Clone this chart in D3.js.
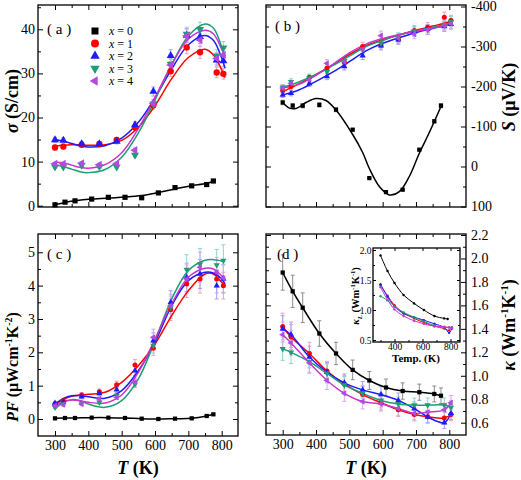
<!DOCTYPE html>
<html><head><meta charset="utf-8">
<script src="https://cdn.jsdelivr.net/npm/d3@7"></script>
<style>body{margin:0;background:#fff}</style>
</head><body>
<script>
// ---------------- DATA ----------------
const seriesNames = ["x = 0","x = 1","x = 2","x = 3","x = 4"];
const T0 = [300,330,360,410,460,510,560,610,660,710,755,775];      // x = 0 temperatures
const Tx = [300,325,380,433,485,540,595,647,695,735,785,805];      // x = 1..4 temperatures
const xTicks = [300,400,500,600,700,800];

// (a) electrical conductivity sigma (S/cm)
const sig0 = [0.2,0.8,1.1,1.5,1.9,1.9,1.8,2.9,4.1,4.5,4.8,5.6];
const sig1 = [13.2,13.4,13.8,14.0,14.9,17.8,22.8,30.5,35.9,34.8,30.2,29.9];
const sig2 = [14.9,14.8,14.0,14.0,14.6,18.3,25.9,34.0,38.6,38.3,33.0,32.8];
const sig3 = [8.8,8.8,9.2,8.9,8.8,11.5,23.1,32.1,38.9,40.0,34.0,35.8];
const sig4 = [9.5,9.5,9.6,9.3,9.5,12.6,23.2,31.9,38.5,37.6,33.4,34.2];
const fitT = [300,325,350,375,400,450,500,550,600,650,700,750,775,800,810];
const sigFit0 = [0.2,0.75,1.1,1.5,1.75,1.95,2.3,3.0,3.8,4.5,5.1,5.5];   // at T0
const sigFit1 = [13.5,13.7,13.8,13.8,13.7,13.8,14.8,17.8,22.7,28.8,33.6,35.5,34.2,30.8,29.0];
const sigFit2 = [15.0,14.6,14.1,13.6,13.3,13.6,15.3,18.9,24.5,31.0,36.5,38.6,37.5,33.5,31.2];
const sigFit3 = [9.2,8.9,8.3,7.7,7.5,8.2,11.0,16.5,24.0,32.0,38.5,41.2,40.3,36.0,33.5];
const sigFit4 = [9.9,9.7,9.2,8.7,8.5,9.3,12.0,17.5,24.5,32.0,37.8,39.8,39.0,35.5,33.8];
const sigTicks = [0,10,20,30,40];

// (b) Seebeck coefficient S (uV/K)
const S0 = [-160,-152,-152,-154,-142,-92,29,64,58,-42,-113,-152];
const S1 = [-190,-200,-223,-246,-260,-300,-304,-318,-340,-348,-373,-365];
const S2 = [-179,-183,-207,-225,-250,-277,-302,-317,-337,-343,-350,-356];
const S3 = [-198,-212,-221,-237,-264,-293,-308,-323,-339,-342,-354,-362];
const S4 = [-196,-208,-217,-258,-262,-293,-327,-321,-331,-342,-352,-357];
const fitTb = [300,350,400,450,500,550,600,650,700,750,800,805];
const SFit1 = [-187,-207,-230,-254,-280,-302,-317,-329,-341,-351,-362,-365];
const SFit2 = [-179,-192,-213,-236,-262,-289,-308,-322,-335,-345,-355,-357];
const SFit3 = [-198,-212,-230,-252,-276,-300,-315,-329,-339,-348,-358,-360];
const SFit4 = [-196,-206,-228,-255,-284,-306,-320,-330,-338,-346,-354,-357];
const SFit0T = [300,320,340,370,400,430,460,510,540,560,590,620,650,680,710,740,775];
const SFit0 = [-160,-146,-145,-160,-170,-165,-141,-80,-35,5,50,71,63,25,-33,-85,-150];
const STicks = [-400,-300,-200,-100,0,100];

// (c) power factor PF (uW cm^-1 K^-2)
const PF0 = [0.02,0.03,0.03,0.04,0.04,0.03,0.01,0.0,0.01,0.02,0.09,0.14];
const PF1 = [0.45,0.55,0.72,0.82,1.03,1.62,2.12,3.28,4.05,4.2,4.2,4.0];
const PF2 = [0.48,0.5,0.67,0.77,0.88,1.45,2.35,3.5,4.25,4.35,4.0,4.2];
const PF3 = [0.35,0.45,0.48,0.5,0.7,1.05,2.2,3.35,4.48,4.65,4.62,4.75];
const PF4 = [0.4,0.43,0.45,0.6,0.65,1.1,2.45,3.4,4.2,4.55,4.4,4.22];
const PFFit1 = [0.42,0.58,0.68,0.72,0.74,0.8,1.1,1.6,2.25,3.1,3.85,4.35,4.35,4.1,4.0];
const PFFit2 = [0.45,0.62,0.7,0.7,0.67,0.62,0.85,1.45,2.3,3.4,4.15,4.4,4.38,4.2,4.05];
const PFFit3 = [0.3,0.5,0.58,0.55,0.45,0.35,0.55,1.2,2.35,3.6,4.45,4.76,4.78,4.74,4.72];
const PFFit4 = [0.37,0.52,0.57,0.55,0.5,0.48,0.72,1.4,2.4,3.45,4.25,4.52,4.5,4.3,4.2];
const PFTicks = [0,1,2,3,4,5];

// (d) thermal conductivity kappa (W m^-1 K^-1)
const K0 = [1.88,1.72,1.58,1.36,1.19,1.05,0.96,0.90,0.87,0.86,0.845,0.83];
const K1 = [1.42,1.33,1.19,1.04,0.93,0.84,0.77,0.71,0.67,0.65,0.64,0.67];
const K2 = [1.40,1.35,1.16,1.03,0.94,0.88,0.84,0.79,0.72,0.65,0.60,0.68];
const K3 = [1.23,1.20,1.12,1.02,0.92,0.85,0.79,0.76,0.75,0.75,0.75,0.73];
const K4 = [1.35,1.28,1.11,0.96,0.85,0.78,0.76,0.72,0.68,0.69,0.71,0.77];
const KTicks = [0.6,0.8,1.0,1.2,1.4,1.6,1.8,2.0,2.2];

// inset: lattice thermal conductivity
const TiIn = [300,350,400,465,540,610,685,755,790,810];
const TiIn0 = [300,350,400,465,540,610,685,755,780];
const KL0 = [1.91,1.65,1.45,1.25,1.11,1.0,0.9,0.86,0.85];
const KL1 = [1.41,1.24,1.08,0.95,0.86,0.79,0.73,0.69,0.66,0.71];
const KL2 = [1.43,1.22,1.06,0.94,0.88,0.83,0.77,0.71,0.62,0.69];
const KL3 = [1.23,1.16,1.06,0.96,0.88,0.81,0.74,0.71,0.71,0.71];
const KL4 = [1.38,1.17,1.01,0.90,0.82,0.77,0.73,0.72,0.71,0.70];
const insetXTicks = [400,600,800];
const insetYTicks = [0.5,1.0,1.5,2.0];

// relative measurement uncertainty shown as error bars
const errA = 0.04, errB = 0.035, errC = 0.10, errD = 0.08;

// ---------------- STYLE ----------------
const F = "'Liberation Serif','Times New Roman',serif";
const colors = ["#000000","#ff0000","#1c1cff","#1e9c76","#b04ae0"];
const lineColors = ["#000000","#ff0000","#1c1cff","#1e9c76","#cc33cc"];
const errColors = ["#8c8c8c","#f4a0b4","#9ea0ff","#8fd6c2","#d9a6f2"];
const shapes = [d3.symbolSquare,d3.symbolCircle,d3.symbolTriangle,d3.symbolTriangle,d3.symbolTriangle];
const rots = [0,0,0,180,-90];

const svg = d3.select("body").append("svg").attr("width",521).attr("height",480);

// scales
const xAC = d3.scaleLinear().domain([300,800]).range([55,221.7]);
const xBD = d3.scaleLinear().domain([300,800]).range([282.7,449.3]);
const yA = d3.scaleLinear().domain([0,40]).range([205.7,29.3]);
const yB = d3.scaleLinear().domain([100,-400]).range([206.5,6.5]);
const yC = d3.scaleLinear().domain([0,5]).range([419,252.3]);
const yD = d3.scaleLinear().domain([0.6,2.2]).range([422.7,235]);
const xI = d3.scaleLinear().domain([400,800]).range([394.5,450.5]);
const yI = d3.scaleLinear().domain([0.5,2.0]).range([340,250]);

function styleAxis(sel, fs){
  sel.select(".domain").remove();
  sel.selectAll("text").style("font-family",F).style("font-size",fs+"px").attr("fill","#000");
  sel.selectAll("line").attr("stroke","#000").attr("stroke-width",1);
}

function frame(cfg){
  const {L,R,Tp,B,x,y,xMaj,xMin,yMaj,yMin,yFmt,ySide,xLab,fs,tl,tm,px,py} = cfg;
  const g = svg.append("g");
  const lab = d3.format("d");
  g.append("g").attr("transform",`translate(0,${B})`)
    .call(d3.axisBottom(x).tickValues(xMaj).tickSize(-tl).tickPadding(px).tickFormat(xLab?lab:"")).call(s=>styleAxis(s,fs));
  g.append("g").attr("transform",`translate(0,${B})`)
    .call(d3.axisBottom(x).tickValues(xMin).tickSize(-tm).tickFormat("")).call(s=>styleAxis(s,fs));
  g.append("g").attr("transform",`translate(0,${Tp})`)
    .call(d3.axisTop(x).tickValues(xMaj).tickSize(-tl).tickFormat("")).call(s=>styleAxis(s,fs));
  g.append("g").attr("transform",`translate(0,${Tp})`)
    .call(d3.axisTop(x).tickValues(xMin).tickSize(-tm).tickFormat("")).call(s=>styleAxis(s,fs));
  g.append("g").attr("transform",`translate(${L},0)`)
    .call(d3.axisLeft(y).tickValues(yMaj).tickSize(-tl).tickPadding(py).tickFormat(ySide==="left"?yFmt:"")).call(s=>styleAxis(s,fs));
  g.append("g").attr("transform",`translate(${L},0)`)
    .call(d3.axisLeft(y).tickValues(yMin).tickSize(-tm).tickFormat("")).call(s=>styleAxis(s,fs));
  g.append("g").attr("transform",`translate(${R},0)`)
    .call(d3.axisRight(y).tickValues(yMaj).tickSize(-tl).tickPadding(py+2).tickFormat(ySide==="right"?yFmt:"")).call(s=>styleAxis(s,fs));
  g.append("g").attr("transform",`translate(${R},0)`)
    .call(d3.axisRight(y).tickValues(yMin).tickSize(-tm).tickFormat("")).call(s=>styleAxis(s,fs));
  g.append("rect").attr("x",L).attr("y",Tp).attr("width",R-L).attr("height",B-Tp)
    .attr("fill","none").attr("stroke","#000").attr("stroke-width",1.3);
}

function errBars(g,x,y,T,V,i,frac){
  const gg = g.append("g").attr("stroke",errColors[i]).attr("stroke-width",1);
  T.forEach((t,k)=>{
    const e = Math.abs(V[k])*frac;
    const px = x(t), y1 = y(V[k]-e), y2 = y(V[k]+e);
    gg.append("line").attr("x1",px).attr("x2",px).attr("y1",y1).attr("y2",y2);
    gg.append("line").attr("x1",px-2).attr("x2",px+2).attr("y1",y1).attr("y2",y1);
    gg.append("line").attr("x1",px-2).attr("x2",px+2).attr("y1",y2).attr("y2",y2);
  });
}
function curve(g,x,y,T,V,i,w){
  const line = d3.line().x((d,k)=>x(T[k])).y(d=>y(d)).curve(d3.curveCatmullRom.alpha(0.5));
  g.append("path").attr("d",line(V)).attr("fill","none").attr("stroke",lineColors[i]).attr("stroke-width",w||1.5);
}
const symSizes = {big:[27,32,28,28,28], small:[18,20,17,17,17], legend:[49,50,38,38,38]};
function markers(g,x,y,T,V,i,sz){
  const p = d3.symbol().type(shapes[i]).size(symSizes[sz][i])();
  g.append("g").selectAll("path").data(V).join("path")
    .attr("d",p).attr("fill",colors[i])
    .attr("transform",(d,k)=>`translate(${x(T[k])},${y(d)}) rotate(${rots[i]})`);
}

const xMinor = [350,450,550,650,750];
const fmtD = d3.format("d");

// ---------- Panel (a) ----------
frame({L:38,R:238,Tp:5,B:207,x:xAC,y:yA,xMaj:xTicks,xMin:xMinor,yMaj:sigTicks,yMin:[5,15,25,35,45],
  yFmt:fmtD,ySide:"left",xLab:false,fs:14,tl:5,tm:3,px:4,py:3});
{
  const g = svg.append("g");
  const sets = [[T0,sig0],[Tx,sig1],[Tx,sig2],[Tx,sig3],[Tx,sig4]];
  sets.forEach((s,i)=>errBars(g,xAC,yA,s[0],s[1],i,errA));
  curve(g,xAC,yA,T0,sigFit0,0);
  [sigFit1,sigFit2,sigFit3,sigFit4].forEach((f,k)=>curve(g,xAC,yA,fitT,f,k+1));
  sets.forEach((s,i)=>markers(g,xAC,yA,s[0],s[1],i,"big"));
  const lg = svg.append("g");
  seriesNames.forEach((n,i)=>{
    const yy = 31 + i*12.5;
    const p = d3.symbol().type(shapes[i]).size(symSizes.legend[i])();
    lg.append("path").attr("d",p).attr("fill",colors[i]).attr("transform",`translate(95,${yy}) rotate(${rots[i]})`);
    const t = lg.append("text").attr("x",109).attr("y",yy+4).style("font-family",F).style("font-size","12px");
    t.append("tspan").attr("font-style","italic").text("x");
    t.append("tspan").text(n.slice(1));
  });
}

// ---------- Panel (b) ----------
frame({L:266,R:466,Tp:5,B:207,x:xBD,y:yB,xMaj:xTicks,xMin:xMinor,yMaj:STicks,yMin:[-350,-250,-150,-50,50],
  yFmt:d=>String(d),ySide:"right",xLab:false,fs:14,tl:5,tm:3,px:4,py:3});
{
  const g = svg.append("g");
  const sets = [[T0,S0],[Tx,S1],[Tx,S2],[Tx,S3],[Tx,S4]];
  sets.forEach((s,i)=>errBars(g,xBD,yB,s[0],s[1],i,errB));
  curve(g,xBD,yB,SFit0T,SFit0,0);
  [SFit1,SFit2,SFit3,SFit4].forEach((f,k)=>curve(g,xBD,yB,fitTb,f,k+1));
  sets.forEach((s,i)=>markers(g,xBD,yB,s[0],s[1],i,"small"));
}

// ---------- Panel (c) ----------
frame({L:38,R:238,Tp:234,B:436,x:xAC,y:yC,xMaj:xTicks,xMin:xMinor,yMaj:PFTicks,yMin:[0.5,1.5,2.5,3.5,4.5],
  yFmt:fmtD,ySide:"left",xLab:true,fs:14,tl:5,tm:3,px:4,py:3});
{
  const g = svg.append("g");
  const sets = [[T0,PF0],[Tx,PF1],[Tx,PF2],[Tx,PF3],[Tx,PF4]];
  sets.forEach((s,i)=>errBars(g,xAC,yC,s[0],s[1],i,errC));
  curve(g,xAC,yC,T0,PF0,0);
  [PFFit1,PFFit2,PFFit3,PFFit4].forEach((f,k)=>curve(g,xAC,yC,fitT,f,k+1));
  sets.forEach((s,i)=>markers(g,xAC,yC,s[0],s[1],i,"small"));
}

// ---------- Panel (d) ----------
frame({L:266,R:466,Tp:234,B:435,x:xBD,y:yD,xMaj:xTicks,xMin:xMinor,yMaj:KTicks,yMin:[0.7,0.9,1.1,1.3,1.5,1.7,1.9,2.1],
  yFmt:d3.format(".1f"),ySide:"right",xLab:true,fs:14,tl:5,tm:3,px:4,py:3});
{
  const g = svg.append("g");
  const sets = [[T0,K0],[Tx,K1],[Tx,K2],[Tx,K3],[Tx,K4]];
  sets.forEach((s,i)=>errBars(g,xBD,yD,s[0],s[1],i,errD));
  sets.forEach((s,i)=>curve(g,xBD,yD,s[0],s[1],i));
  sets.forEach((s,i)=>markers(g,xBD,yD,s[0],s[1],i,"small"));
}

// ---------- Inset ----------
svg.append("rect").attr("x",373).attr("y",248).attr("width",87).attr("height",94).attr("fill","#fff");
{
  const g = svg.append("g");
  const sets = [[TiIn0,KL0],[TiIn,KL1],[TiIn,KL2],[TiIn,KL3],[TiIn,KL4]];
  sets.forEach((s,i)=>curve(g,xI,yI,s[0],s[1],i,1));
  sets.forEach((s,i)=>{
    g.append("g").selectAll("circle").data(s[1]).join("circle")
      .attr("cx",(d,k)=>xI(s[0][k])).attr("cy",d=>yI(d)).attr("r",1.2).attr("fill",lineColors[i]);
  });
}
frame({L:373,R:460,Tp:248,B:342,x:xI,y:yI,xMaj:insetXTicks,xMin:[300,500,700],yMaj:insetYTicks,yMin:[0.75,1.25,1.75],
  yFmt:d3.format(".1f"),ySide:"left",xLab:true,fs:9.5,tl:3,tm:2,px:1,py:1.5});

// ---------- Titles ----------
function txt(x,y,rot,size,parts,anchor){
  const t = svg.append("text").attr("transform",`translate(${x},${y}) rotate(${rot})`)
    .attr("text-anchor",anchor||"middle").style("font-family",F).style("font-size",size+"px").style("font-weight","bold");
  parts.forEach(p=>{
    const s = t.append("tspan").text(p.t);
    if (p.i) s.attr("font-style","italic");
    if (p.sup) s.attr("dy",-size*0.38).style("font-size",(size*0.62)+"px");
    if (p.sub) s.attr("dy",size*0.25).style("font-size",(size*0.65)+"px");
    if (p.back) s.attr("dy",p.back);
  });
  return t;
}
txt(18,101,-90,18,[{t:"σ",i:true},{t:" (S/cm)"}]);
txt(515,97,-90,18,[{t:"S",i:true},{t:" (μV/K)"}]);
txt(18,367,-90,16,[{t:"PF",i:true},{t:" (μWcm"},{t:"-1",sup:true},{t:"K",back:16*0.38},{t:"-2",sup:true},{t:")",back:16*0.38}]);
txt(515,325,-90,18,[{t:"κ",i:true},{t:" (Wm"},{t:"-1",sup:true},{t:"K",back:18*0.38},{t:"-1",sup:true},{t:")",back:18*0.38}]);
txt(138,474,0,18,[{t:"T",i:true},{t:" (K)"}]);
txt(366,474,0,18,[{t:"T",i:true},{t:" (K)"}]);
txt(359,296,-90,10.5,[{t:"κ",i:true},{t:"L",i:true,sub:true},{t:" (Wm",back:-10.5*0.25},{t:"-1",sup:true},{t:"K",back:10.5*0.38},{t:"-1",sup:true},{t:")",back:10.5*0.38}]);
txt(416,362,0,11,[{t:"Temp. (K)"}]);

// panel letters
[["( a )",47,34],["( b )",275,31],["( c )",47,259],["(d )",277,259]].forEach(d=>{
  svg.append("text").attr("x",d[1]).attr("y",d[2]).style("font-family",F).style("font-size","15px").text(d[0]);
});
</script>
</body></html>
